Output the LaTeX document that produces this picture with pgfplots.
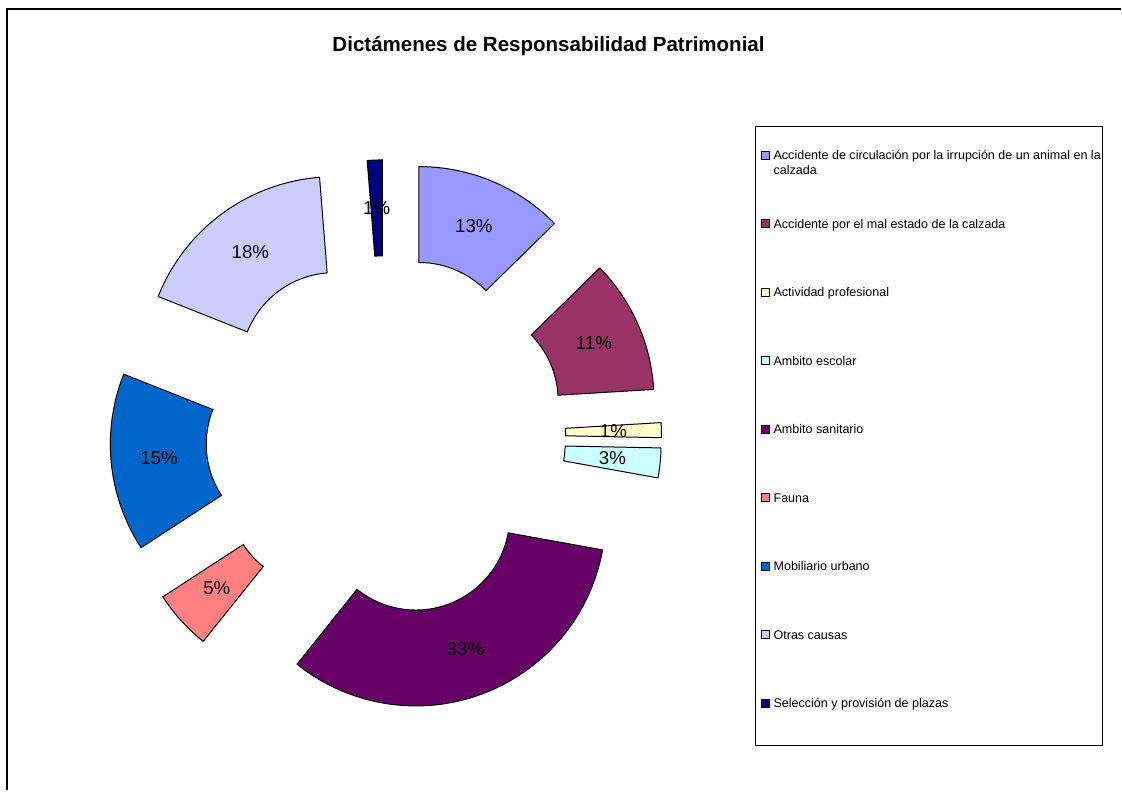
\documentclass[border=0pt]{standalone}
\usepackage{pgfplots}
\pgfplotsset{compat=1.18}
\usepackage{fontspec}
\setmainfont{Liberation Sans}
\definecolor{c1}{HTML}{9999FF}
\definecolor{c2}{HTML}{993366}
\definecolor{c3}{HTML}{FFFFCC}
\definecolor{c4}{HTML}{CCFFFF}
\definecolor{c5}{HTML}{660066}
\definecolor{c6}{HTML}{FF8080}
\definecolor{c7}{HTML}{0066CC}
\definecolor{c8}{HTML}{CCCCFF}
\definecolor{c9}{HTML}{000080}
% geometry of the donut (image pixels)
\newcommand\Cx{386}
\newcommand\Cy{436}
\newcommand\Rout{190}
\newcommand\Rin{94}
\newcommand\Off{86}
\newcommand\Tot{79}
\gdef\Cum{0}
\newcommand\slice[4]{%
 \pgfmathsetmacro\Ta{\Cum/\Tot*360}%
 \pgfmathsetmacro\Tb{(\Cum+#1)/\Tot*360}%
 \pgfmathsetmacro\Tm{(\Ta+\Tb)/2}%
 \pgfmathsetmacro\Sx{\Cx+\Off*sin(\Tm)}%
 \pgfmathsetmacro\Sy{\Cy-\Off*cos(\Tm)}%
 \pgfmathsetmacro\Lx{\Cx+(\Off+(\Rout+\Rin)/2)*sin(\Tm)}%
 \pgfmathsetmacro\Ly{\Cy-(\Off+(\Rout+\Rin)/2)*cos(\Tm)}%
 \addplot[fill=#2, draw=black, line width=0.75pt]
   ({\Sx+((((\t<=40)||(\t>=200))?\Rout:\Rin))*sin(((\t<=40)?(\Ta+(\Tb-\Ta)*\t/40):((\t>=200)?\Ta:(\Tb-(\Tb-\Ta)*(\t-100)/40))))},
    {\Sy-((((\t<=40)||(\t>=200))?\Rout:\Rin))*cos(((\t<=40)?(\Ta+(\Tb-\Ta)*\t/40):((\t>=200)?\Ta:(\Tb-(\Tb-\Ta)*(\t-100)/40))))});
 \addlegendentry{#4}
 \addplot[forget plot, only marks, mark=*, mark size=0pt, mark options={draw=none,fill=none},
   point meta=explicit symbolic, nodes near coords,
   every node near coord/.append style={anchor=center, text=black, inner sep=0pt, font=\fontsize{14}{16}\selectfont}]
   coordinates {(\Lx,\Ly) [#3]};
 \pgfmathsetmacro\NewCum{\Cum+#1}\xdef\Cum{\NewCum}%
}
\begin{document}
\begin{tikzpicture}
\begin{axis}[
  scale only axis, width=841.5pt, height=593.25pt,
  xmin=0, xmax=1122, ymin=0, ymax=791, y dir=reverse,
  hide axis, clip=false,
  variable=\t, samples at={0,1,...,40,100,101,...,140,200},
  legend image code/.code={\draw[#1] (0pt,0.3pt) rectangle (6pt,6.3pt);},
  legend cell align=left,
  legend style={at={(axis cs:761,150)}, anchor=north west, draw=none, fill=none,
    inner sep=0pt, row sep=42.45pt, column sep=3pt, cells={anchor=base west},
    nodes={inner sep=0pt, text height=7pt, text depth=2pt, font=\fontsize{9.4}{11.25}\selectfont}},
]
\path (rel axis cs:0,0) rectangle (rel axis cs:1,1);
\slice{10}{c1}{13\%}{\parbox[t]{249pt}{Accidente de circulación por la irrupción de un animal en la\\calzada}}
\slice{9}{c2}{11\%}{Accidente por el mal estado de la calzada}
\slice{1}{c3}{1\%}{Actividad profesional}
\slice{2}{c4}{3\%}{Ambito escolar}
\slice{26}{c5}{33\%}{Ambito sanitario}
\slice{4}{c6}{5\%}{Fauna}
\slice{12}{c7}{15\%}{Mobiliario urbano}
\slice{14}{c8}{18\%}{Otras causas}
\slice{1}{c9}{1\%}{Selección y provisión de plazas}
\draw[line width=0.75pt] (axis cs:756.5,126.5) rectangle (axis cs:1103,746.5);
\node[font=\bfseries\fontsize{15.4}{18}\selectfont, anchor=base] at (axis cs:549,51.5) {Dictámenes de Responsabilidad Patrimonial};
\draw[line width=1.4pt] (axis cs:7.3,791) -- (axis cs:7.3,8.8) -- (axis cs:1122,8.8);
\end{axis}
\end{tikzpicture}
\end{document}
